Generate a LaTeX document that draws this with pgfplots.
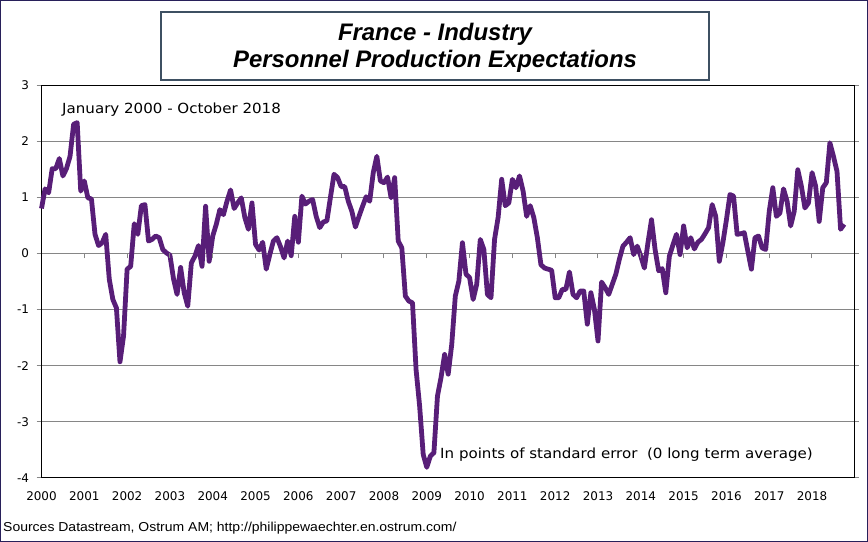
\documentclass[border=0pt]{standalone}
\usepackage{fontspec}
\setmainfont{DejaVu Sans}
\newfontfamily\notefont[FakeStretch=1.08]{DejaVu Sans}
\newfontfamily\titlefont{Liberation Sans}
\newfontfamily\footfont[FakeStretch=1.08]{Liberation Sans}
\usepackage{pgfplots}
\pgfplotsset{compat=1.18}
\usepackage{pgfplotstable}
\definecolor{linepurple}{RGB}{88,30,120}
\definecolor{framenavy}{RGB}{40,32,90}
\definecolor{boxslate}{RGB}{62,80,98}
\definecolor{gridgray}{RGB}{134,134,134}

% m = months since January 2000, v = value
\pgfplotstableread{
m v
0 0.80
1 1.15
2 1.08
3 1.51
4 1.51
5 1.69
6 1.38
7 1.51
8 1.73
9 2.30
10 2.33
11 1.11
12 1.29
13 0.99
14 0.97
15 0.34
16 0.14
17 0.19
18 0.34
19 -0.46
20 -0.82
21 -0.97
22 -1.93
23 -1.47
24 -0.28
25 -0.23
26 0.53
27 0.34
28 0.85
29 0.87
30 0.22
31 0.25
32 0.31
33 0.28
34 0.07
35 0.01
36 -0.03
37 -0.45
38 -0.73
39 -0.25
40 -0.70
41 -0.94
42 -0.17
43 -0.05
44 0.14
45 -0.23
46 0.84
47 -0.14
48 0.31
49 0.52
50 0.78
51 0.69
52 0.93
53 1.13
54 0.80
55 0.90
56 0.99
57 0.64
58 0.43
59 0.90
60 0.16
61 0.06
62 0.20
63 -0.28
64 -0.02
65 0.22
66 0.28
67 0.12
68 -0.08
69 0.22
70 -0.04
71 0.66
72 0.20
73 1.02
74 0.88
75 0.93
76 0.96
77 0.66
78 0.46
79 0.56
80 0.58
81 1.00
82 1.41
83 1.35
84 1.19
85 1.19
86 0.93
87 0.75
88 0.47
89 0.66
90 0.84
91 1.01
92 0.93
93 1.44
94 1.73
95 1.29
96 1.26
97 1.36
98 0.99
99 1.35
100 0.22
101 0.10
102 -0.76
103 -0.85
104 -0.88
105 -2.07
106 -2.72
107 -3.58
108 -3.81
109 -3.61
110 -3.55
111 -2.54
112 -2.21
113 -1.80
114 -2.15
115 -1.62
116 -0.76
117 -0.49
118 0.19
119 -0.37
120 -0.43
121 -0.82
122 -0.55
123 0.25
124 0.07
125 -0.73
126 -0.79
127 0.25
128 0.64
129 1.32
130 0.85
131 0.90
132 1.32
133 1.17
134 1.38
135 1.11
136 0.66
137 0.85
138 0.64
139 0.28
140 -0.20
141 -0.26
142 -0.28
143 -0.30
144 -0.79
145 -0.79
146 -0.64
147 -0.64
148 -0.33
149 -0.73
150 -0.79
151 -0.67
152 -0.67
153 -1.26
154 -0.70
155 -1.00
156 -1.56
157 -0.51
158 -0.61
159 -0.73
160 -0.55
161 -0.37
162 -0.10
163 0.13
164 0.20
165 0.28
166 -0.02
167 0.13
168 -0.05
169 -0.26
170 0.19
171 0.60
172 0.07
173 -0.31
174 -0.27
175 -0.70
176 -0.05
177 0.15
178 0.34
179 -0.02
180 0.49
181 0.10
182 0.28
183 0.08
184 0.20
185 0.25
186 0.35
187 0.46
188 0.87
189 0.66
190 -0.14
191 0.19
192 0.60
193 1.05
194 1.02
195 0.34
196 0.35
197 0.37
198 0.04
199 -0.28
200 0.28
201 0.31
202 0.10
203 0.07
204 0.75
205 1.17
206 0.66
207 0.72
208 1.15
209 0.93
210 0.49
211 0.75
212 1.49
213 1.20
214 0.81
215 0.90
216 1.44
217 1.20
218 0.57
219 1.17
220 1.26
221 1.97
222 1.73
223 1.46
224 0.43
225 0.52
}\datatable

\begin{document}
\begin{tikzpicture}
\draw[framenavy, line width=1bp] (0.5bp,0.5bp) rectangle (867.5bp,541.5bp);
\begin{axis}[
  at={(41.5bp,64bp)}, anchor=south west,
  scale only axis, width=812.5bp, height=393bp,
  xmin=2000, xmax=2018.98, ymin=-4, ymax=3,
  xtick={2000,2001,...,2018}, ytick={-4,-3,...,3},
  /pgf/number format/assume math mode=true,
  /pgf/number format/1000 sep={},
  ymajorgrids, grid style={gridgray, line width=1bp},
  axis line style={black, line width=1bp},
  tick align=outside, major tick length=5bp,
  y tick style={gridgray, line width=1bp},
  x tick style={draw=none},
  tick label style={font=\fontsize{12}{14}\selectfont},
  xticklabel style={yshift=-5bp},
  yticklabel style={xshift=-4bp},
  clip=false,
]
\addplot[linepurple, line width=4.8bp, line join=round, no marks]
  table[x expr=2000+\thisrow{m}/12, y=v]{\datatable};
\node[anchor=west, font=\notefont\fontsize{14}{16}\selectfont, inner sep=0pt] at (axis cs:2000.48,2.56) {January 2000 - October 2018};
\node[anchor=west, font=\notefont\fontsize{14}{16}\selectfont, inner sep=0pt] at (axis cs:2009.31,-3.58) {In points of standard error\ \ (0 long term average)};
\end{axis}
\begin{axis}[
  at={(41.5bp,64bp)}, anchor=south west,
  scale only axis, width=812.5bp, height=393bp,
  xmin=2000, xmax=2018.98, ymin=-4, ymax=3,
  axis x line=middle, axis y line=none,
  x axis line style={draw=none},
  xtick={2001,2002,...,2018}, xticklabels={}, ytick=\empty,
  tick align=outside, major tick length=5bp,
  x tick style={gridgray, line width=1bp},
]
\end{axis}
\draw[boxslate, line width=2.5bp] (161bp,462bp) rectangle (709bp,530bp);
\node[align=center, inner sep=0pt,
  font=\titlefont\bfseries\itshape\fontsize{24}{27}\selectfont] at (435bp,494bp)
  {France - Industry\\Personnel Production Expectations};
\node[anchor=west, inner sep=0pt, font=\footfont\fontsize{13}{15}\selectfont] at (3bp,14bp)
  {Sources Datastream, Ostrum AM; http://philippewaechter.en.ostrum.com/};
\end{tikzpicture}
\end{document}
